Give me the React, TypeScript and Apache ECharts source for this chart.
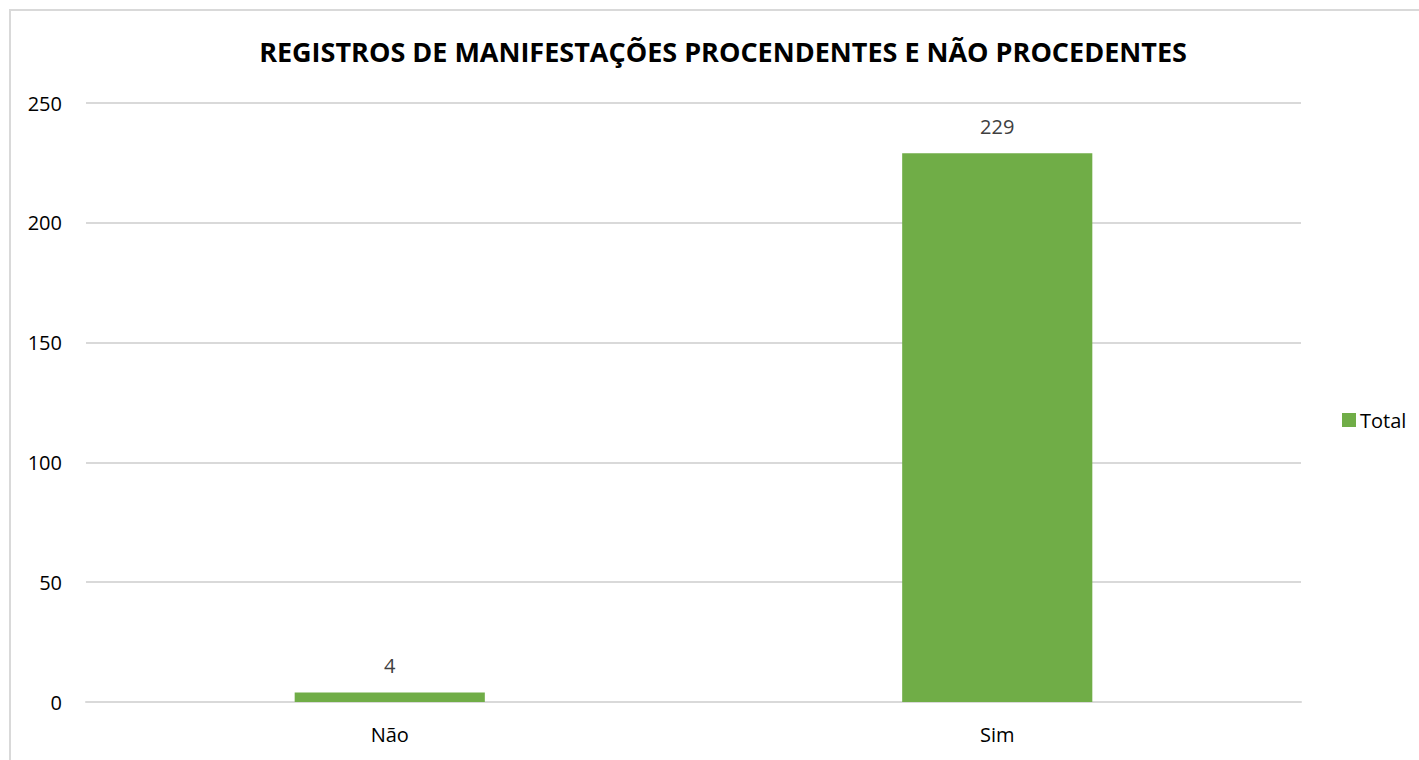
import React, { useEffect, useRef } from "react";
import * as echarts from "echarts";

const categories = ["Não", "Sim"];
const totals = [4, 229];
const seriesName = "Total";
const titleText = "REGISTROS DE MANIFESTAÇÕES PROCENDENTES E NÃO PROCEDENTES";

export default function App() {
  const ref = useRef<HTMLDivElement>(null);
  useEffect(() => {
    if (!ref.current) return;
    const chart = echarts.init(ref.current, null, { renderer: "svg" });
    const font = "'Open Sans', 'Noto Sans', sans-serif";
    chart.setOption({
      animation: false,
      textStyle: { fontFamily: font },
      title: {
        text: titleText,
        left: 707,
        top: 22,
        textAlign: "center",
        textStyle: { fontFamily: font, fontSize: 27, fontWeight: "bold", color: "#000" },
      },
      legend: {
        data: [seriesName],
        orient: "vertical",
        left: 1326,
        top: 394,
        itemWidth: 14,
        itemHeight: 14,
        itemGap: 4,
        icon: "rect",
        textStyle: { fontFamily: font, fontSize: 20, color: "#000", padding: [0, 0, 0, -1] },
      },
      grid: { left: 75, right: 120, top: 92, bottom: 67, containLabel: false },
      xAxis: {
        type: "category",
        data: categories,
        axisTick: { show: false },
        axisLine: { show: true, lineStyle: { color: "#d9d9d9", width: 2 } },
        axisLabel: { fontFamily: font, fontSize: 20, color: "#000", margin: 22 },
      },
      yAxis: {
        type: "value",
        min: 0,
        max: 250,
        interval: 50,
        axisLine: { show: false },
        axisTick: { show: false },
        splitLine: { lineStyle: { color: "#d9d9d9", width: 2 } },
        axisLabel: { fontFamily: font, fontSize: 20, color: "#000", margin: 24 },
      },
      series: [
        {
          name: seriesName,
          type: "bar",
          data: totals,
          barWidth: "31.3%",
          itemStyle: { color: "#70AD47" },
          label: {
            show: true,
            position: "top",
            distance: 17,
            fontFamily: font,
            fontSize: 20,
            color: "#404040",
          },
        },
      ],
    });
    return () => chart.dispose();
  }, []);
  return (
    <div style={{ position: "fixed", left: 0, top: 0, width: 1419, height: 760, overflow: "hidden", background: "#fff" }}>
      <div
        style={{
          position: "absolute",
          left: 9,
          top: 9,
          width: 1414,
          height: 770,
          border: "2px solid #d9d9d9",
          boxSizing: "border-box",
        }}
      >
        <div ref={ref} style={{ width: 1410, height: 758 }} />
      </div>
    </div>
  );
}
